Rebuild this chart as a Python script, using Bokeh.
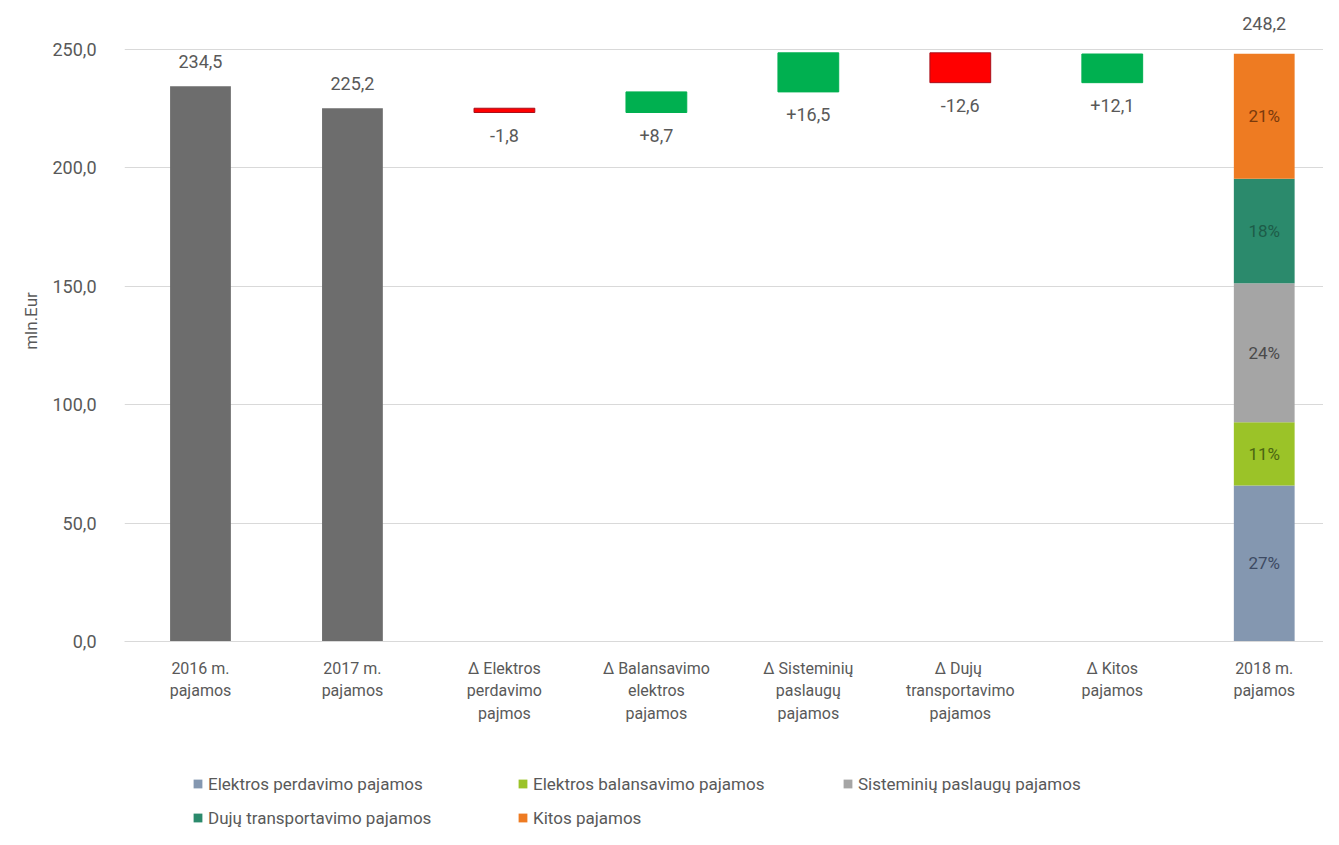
from bokeh.plotting import figure
from bokeh.layouts import column
from bokeh.models import ColumnDataSource, FixedTicker, Legend, LegendItem, Range1d
from bokeh.embed import file_html
from bokeh.resources import INLINE
from bokeh.core.properties import value

# ---------------- data ----------------
categories = [
    "2016 m.\npajamos",
    "2017 m.\npajamos",
    "Δ Elektros\nperdavimo\npajmos",
    "Δ Balansavimo\nelektros\npajamos",
    "Δ Sisteminių\npaslaugų\npajamos",
    "Δ  Dujų\ntransportavimo\npajamos",
    "Δ Kitos\npajamos",
    "2018 m.\npajamos",
]
total_2016 = 234.5
total_2017 = 225.2
total_2018 = 248.2
deltas = [-1.8, 8.7, 16.5, -12.6, 12.1]
segment_names = [
    "Elektros perdavimo pajamos",
    "Elektros balansavimo pajamos",
    "Sisteminių paslaugų pajamos",
    "Dujų transportavimo pajamos",
    "Kitos pajamos",
]
segment_values = [65.9, 26.7, 58.7, 44.1, 52.8]
y_ticks = [0, 50, 100, 150, 200, 250]

# ---------------- styles ----------------
FONT = "Roboto"
TXT = "#595959"
GRID = "#d9d9d9"
seg_colors = ["#8497b0", "#9bc328", "#a5a5a5", "#2b8a6c", "#ee7b22"]
seg_text = ["#3d4a63", "#4b6612", "#4a4a4a", "#1d5c48", "#7a3a0c"]


def fmt(v, sign=False):
    s = f"{v:+.1f}" if sign else f"{v:.1f}"
    return s.replace(".", ",")


X_RANGE = (-0.5, 7.39)

p = figure(
    width=1323, height=741,
    x_range=Range1d(*X_RANGE), y_range=Range1d(0, 270.7),
    output_backend="svg", toolbar_location=None,
    min_border_left=124, min_border_top=0, min_border_right=0,
    min_border_bottom=100,
)
p.outline_line_color = None
p.background_fill_color = "white"

# totals 2016, 2017
tot_src = ColumnDataSource(dict(
    x=[0, 1], top=[total_2016, total_2017],
    lab=[fmt(total_2016), fmt(total_2017)],
))
p.vbar(x="x", top="top", bottom=0, width=0.4, source=tot_src,
       fill_color="#6d6d6d", line_color=None)
p.text(x="x", y="top", text="lab", source=tot_src, text_align="center",
       text_baseline="bottom", y_offset=-18, text_font=value(FONT),
       text_font_size="18px", text_color=TXT)

# deltas
xs, bots, tops, fills, lines, labs = [], [], [], [], [], []
run = total_2017
for i, d in enumerate(deltas):
    start, end = run, run + d
    xs.append(2 + i)
    bots.append(min(start, end))
    tops.append(max(start, end))
    fills.append("#00b050" if d >= 0 else "#ff0000")
    lines.append("#00b050" if d >= 0 else "#a8101c")
    labs.append(fmt(d, sign=d >= 0))
    run = end
d_src = ColumnDataSource(dict(x=xs, bottom=bots, top=tops, fill=fills,
                              line=lines, lab=labs))
p.vbar(x="x", top="top", bottom="bottom", width=0.4, source=d_src,
       fill_color="fill", line_color="line", line_width=1)
p.text(x="x", y="bottom", text="lab", source=d_src, text_align="center",
       text_baseline="top", y_offset=16, text_font=value(FONT),
       text_font_size="18px", text_color=TXT)

# 2018 stack
b = 0.0
total_seg = sum(segment_values)
for name, v, c, tc in zip(segment_names, segment_values, seg_colors, seg_text):
    p.vbar(x=[7], bottom=[b], top=[b + v], width=0.4, fill_color=c,
           line_color=None)
    p.text(x=[7], y=[b + v / 2], text=[f"{round(100 * v / total_seg)}%"],
           text_align="center", text_baseline="middle", text_font=value(FONT),
           text_font_size="17px", text_color=tc)
    b += v
p.text(x=[7], y=[total_2018], text=[fmt(total_2018)], text_align="center",
       text_baseline="bottom", y_offset=-24, text_font=value(FONT),
       text_font_size="18px", text_color=TXT)

# axes
p.xaxis.ticker = FixedTicker(ticks=list(range(len(categories))))
p.xaxis.major_label_overrides = {i: c for i, c in enumerate(categories)}
p.xaxis.major_label_text_font = FONT
p.xaxis.major_label_text_font_size = "16px"
p.xaxis.major_label_text_color = TXT
p.xaxis.major_label_standoff = 11
p.xaxis.axis_line_color = GRID
p.xaxis.major_tick_line_color = None
p.xaxis.minor_tick_line_color = None

p.yaxis.ticker = FixedTicker(ticks=y_ticks)
p.yaxis.major_label_overrides = {t: fmt(t) for t in y_ticks}
p.yaxis.major_label_text_font = FONT
p.yaxis.major_label_text_font_size = "18px"
p.yaxis.major_label_text_color = TXT
p.yaxis.major_label_standoff = 22
p.yaxis.axis_line_color = None
p.yaxis.major_tick_line_color = None
p.yaxis.minor_tick_line_color = None
p.yaxis.axis_label = "mln.Eur"
p.yaxis.axis_label_text_font = FONT
p.yaxis.axis_label_text_font_size = "17px"
p.yaxis.axis_label_text_font_style = "normal"
p.yaxis.axis_label_text_color = TXT
p.yaxis.axis_label_standoff = 8

p.xgrid.grid_line_color = None
p.ygrid.grid_line_color = GRID
p.ygrid.grid_line_width = 1

# ---------------- legend strip ----------------
# proxy renderers (same segment data) sit outside this strip's visible y range
q = figure(width=1323, height=88, x_range=Range1d(*X_RANGE),
           y_range=Range1d(1000, 1001),
           output_backend="svg", toolbar_location=None, min_border=0)
q.axis.visible = False
q.grid.visible = False
q.outline_line_color = None
items = []
for name, v, c in zip(segment_names, segment_values, seg_colors):
    r = q.vbar(x=[7], bottom=[0], top=[v], width=0.4, fill_color=c,
               line_color=None)
    items.append(LegendItem(label=name, renderers=[r]))
legend = Legend(items=items, orientation="horizontal", ncols=3,
                location=(68, 1), glyph_width=11, glyph_height=11,
                label_text_font=FONT, label_text_font_size="17px",
                label_text_color=TXT, label_standoff=5, spacing=13,
                label_width=296, label_height=21,
                padding=0, margin=0, border_line_color=None,
                background_fill_alpha=0)
q.add_layout(legend, "center")

open("out.html", "w").write(file_html(column(p, q, spacing=0), INLINE))
